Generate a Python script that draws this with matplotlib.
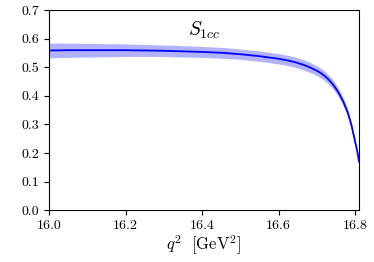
import numpy as np
import matplotlib
matplotlib.use("Agg")
import matplotlib.pyplot as plt

plt.rcParams['font.family'] = 'serif'
plt.rcParams['font.serif'] = ['cmr10']
plt.rcParams['mathtext.fontset'] = 'cm'
plt.rcParams['axes.formatter.use_mathtext'] = True

# S_1cc central value and half-width of the error band
q2 = [16.00, 16.05, 16.10, 16.15, 16.20, 16.25, 16.30, 16.35, 16.40, 16.45,
      16.50, 16.55, 16.60, 16.62, 16.64, 16.66, 16.68, 16.70, 16.71, 16.72,
      16.73, 16.74, 16.75, 16.76, 16.77, 16.78, 16.79, 16.80, 16.805, 16.81]
s1cc = [0.559, 0.560, 0.560, 0.560, 0.560, 0.559, 0.558, 0.556, 0.554, 0.551,
        0.546, 0.539, 0.530, 0.525, 0.519, 0.511, 0.501, 0.488, 0.480, 0.470,
        0.458, 0.443, 0.425, 0.403, 0.376, 0.343, 0.298, 0.238, 0.208, 0.170]
err = [0.026, 0.025, 0.024, 0.023, 0.022, 0.021, 0.020, 0.020, 0.019, 0.019,
       0.018, 0.018, 0.018, 0.018, 0.018, 0.018, 0.018, 0.017, 0.017, 0.017,
       0.016, 0.016, 0.015, 0.014, 0.013, 0.012, 0.010, 0.008, 0.006, 0.004]

q2 = np.array(q2)
s1cc = np.array(s1cc)
err = np.array(err)

fig = plt.figure(figsize=(3.74, 2.62), dpi=100)
ax = fig.add_axes([0.131, 0.198, 0.829, 0.763])

ax.fill_between(q2, s1cc - err, s1cc + err, color='blue', alpha=0.3, linewidth=0)
ax.plot(q2, s1cc, color='blue', linewidth=1.3)

ax.text(16.405, 0.63, r'$S_{1cc}$', fontsize=14, ha='center', va='center')

ax.set_xlim(16.0, 16.81)
ax.set_ylim(0.0, 0.7)
ax.set_xticks([16.0, 16.2, 16.4, 16.6, 16.8])
ax.set_yticks(np.arange(0, 0.71, 0.1))
ax.set_xticklabels(['16.0', '16.2', '16.4', '16.6', '16.8'])
ax.set_yticklabels(['%.1f' % v for v in np.arange(0, 0.71, 0.1)])
ax.tick_params(labelsize=10)
ax.set_xlabel(r'$q^2\ \ [\mathrm{GeV}^2]$', fontsize=12, labelpad=1)

fig.savefig('out.png', dpi=100)
